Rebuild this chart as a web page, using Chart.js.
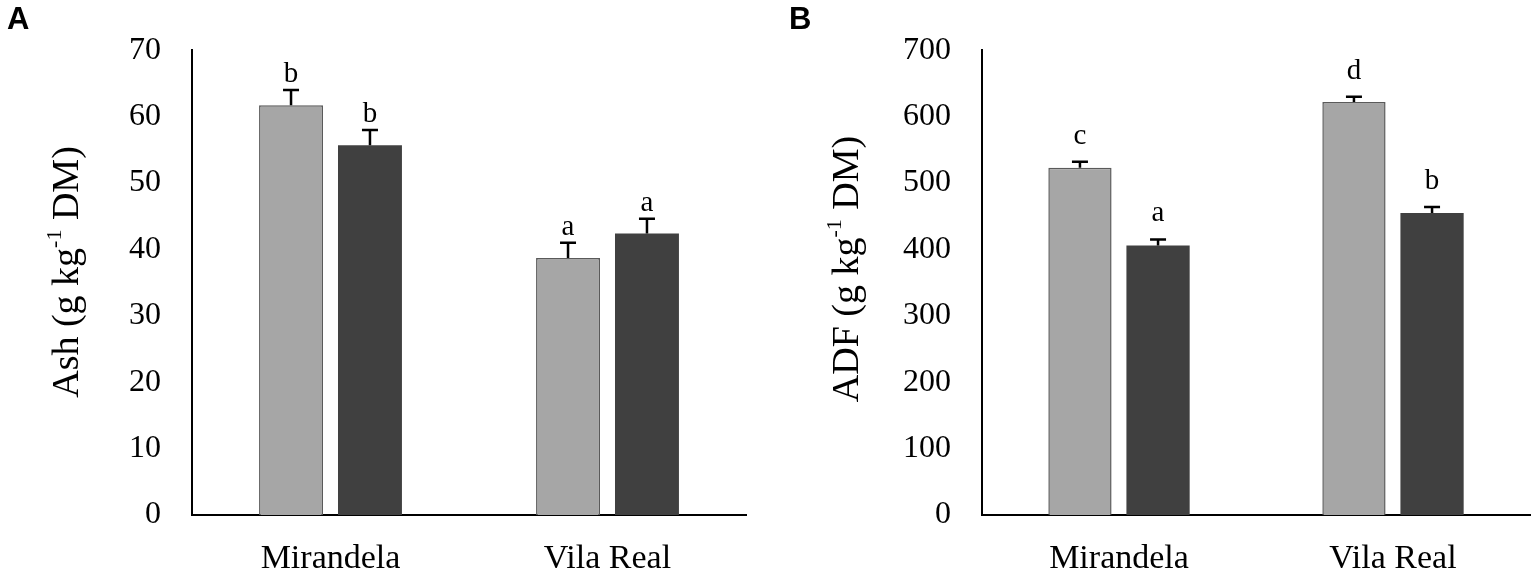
<!DOCTYPE html>
<html>
<head>
<meta charset="utf-8">
<script src="https://cdn.jsdelivr.net/npm/chart.js@4.4.1/dist/chart.umd.min.js"></script>
<style>
  body { margin: 0; background: #fff; width: 1535px; height: 568px; overflow: hidden; position: relative; }
  .panel { position: absolute; top: 0; height: 568px; }
  .tag { position: absolute; top: 1px; font: bold 31px "Liberation Sans", Arial, sans-serif; color: #000; }
</style>
</head>
<body>
<div class="panel" style="left:0;width:767px"><canvas id="ash" width="767" height="568"></canvas></div>
<div class="panel" style="left:767px;width:768px"><canvas id="adf" width="768" height="568"></canvas></div>
<div class="tag" style="left:7px">A</div>
<div class="tag" style="left:789px">B</div>
<script>
// data
const sites = ['Mirandela', 'Vila Real'];

const ashLight = [61.7, 38.7];
const ashDark = [55.7, 42.4];
const ashLightErr = [2.3, 2.3];
const ashDarkErr = [2.3, 2.2];
const ashLightLetters = ['b', 'a'];
const ashDarkLetters = ['b', 'a'];
const ashTicks = { max: 70, step: 10 };

const adfLight = [523, 622];
const adfDark = [406, 455];
const adfLightErr = [9, 8];
const adfDarkErr = [9, 9];
const adfLightLetters = ['c', 'd'];
const adfDarkLetters = ['a', 'b'];
const adfTicks = { max: 700, step: 100 };

const serif = '"Liberation Serif", "Times New Roman", serif';

// error bars (upper only) and significance letters
const errorBarPlugin = {
  id: 'errorBars',
  afterDatasetsDraw(chart, args, opts) {
    const ctx = chart.ctx;
    const y = chart.scales.y;
    ctx.save();
    chart.data.datasets.forEach((ds, i) => {
      const meta = chart.getDatasetMeta(i);
      meta.data.forEach((bar, j) => {
        const top = y.getPixelForValue(ds.data[j] + opts.errors[i][j]);
        ctx.strokeStyle = '#000';
        ctx.lineWidth = 2.5;
        ctx.beginPath();
        ctx.moveTo(bar.x, bar.y);
        ctx.lineTo(bar.x, top);
        ctx.moveTo(bar.x - 8, top);
        ctx.lineTo(bar.x + 8, top);
        ctx.stroke();
        ctx.fillStyle = '#000';
        ctx.font = '29px ' + serif;
        ctx.textAlign = 'center';
        ctx.textBaseline = 'alphabetic';
        ctx.fillText(opts.letters[i][j], bar.x, top - opts.gap);
      });
    });
    ctx.restore();
  }
};

// rotated y title with a superscript
const yTitlePlugin = {
  id: 'yTitle',
  afterDraw(chart, args, opts) {
    const ctx = chart.ctx;
    const big = '38px ' + serif, small = '22px ' + serif;
    const parts = [[opts.before, big, 0], ['-1', small, -13], [' DM)', big, 0]];
    ctx.save();
    let total = 0;
    parts.forEach(p => { ctx.font = p[1]; total += ctx.measureText(p[0]).width; });
    ctx.translate(opts.x, opts.y);
    ctx.rotate(-Math.PI / 2);
    ctx.fillStyle = '#000';
    ctx.textBaseline = 'middle';
    ctx.textAlign = 'left';
    let x = -total / 2;
    parts.forEach(p => {
      ctx.font = p[1];
      ctx.fillText(p[0], x, p[2] + 4);
      x += ctx.measureText(p[0]).width;
    });
    ctx.restore();
  }
};

function makeChart(id, light, dark, errs, letters, ticks, yWidth, padRight, title) {
  return new Chart(document.getElementById(id), {
    type: 'bar',
    data: {
      labels: sites,
      datasets: [{
        label: 'Treatment 1',
        data: light,
        backgroundColor: '#a6a6a6',
        borderColor: '#5a5a5a',
        borderWidth: 1.5,
        categoryPercentage: 0.57,
        barPercentage: 0.81
      }, {
        label: 'Treatment 2',
        data: dark,
        backgroundColor: '#404040',
        borderColor: '#404040',
        borderWidth: 0,
        categoryPercentage: 0.57,
        barPercentage: 0.81
      }]
    },
    options: {
      responsive: false,
      animation: false,
      layout: { padding: { top: 47, right: padRight, bottom: 0, left: 0 } },
      plugins: {
        legend: { display: false },
        tooltip: { enabled: false },
        errorBars: { errors: errs, letters: letters.list, gap: letters.gap },
        yTitle: title
      },
      scales: {
        x: {
          grid: { display: false },
          border: { display: true, color: '#000', width: 2 },
          ticks: { color: '#000', font: { family: serif, size: 34 }, padding: 16 },
          afterFit(s) { s.height = 53; }
        },
        y: {
          min: 0,
          max: ticks.max,
          grid: { display: false, drawTicks: false },
          border: { display: true, color: '#000', width: 2 },
          ticks: { stepSize: ticks.step, color: '#000', font: { family: serif, size: 32 }, padding: 31 },
          afterFit(s) { s.width = yWidth; }
        }
      }
    },
    plugins: [errorBarPlugin, yTitlePlugin]
  });
}

makeChart('ash', ashLight, ashDark, [ashLightErr, ashDarkErr],
  { list: [ashLightLetters, ashDarkLetters], gap: 8 }, ashTicks, 192, 21,
  { before: 'Ash (g kg', x: 64, y: 272 });

makeChart('adf', adfLight, adfDark, [adfLightErr, adfDarkErr],
  { list: [adfLightLetters, adfDarkLetters], gap: 18 }, adfTicks, 215, 5,
  { before: 'ADF (g kg', x: 77, y: 269 });
</script>
</body>
</html>
